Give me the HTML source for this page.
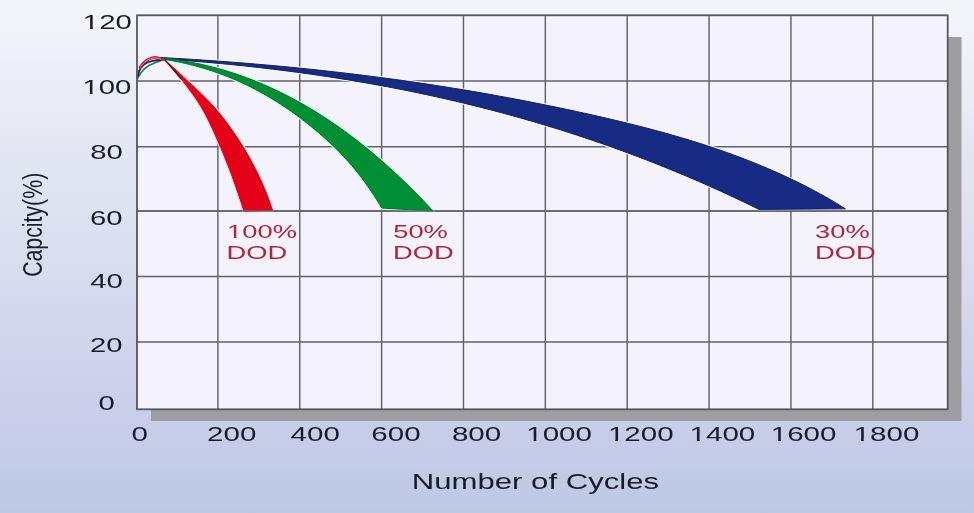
<!DOCTYPE html>
<html><head><meta charset="utf-8"><title>Cycle life chart</title>
<style>html,body{margin:0;padding:0;width:974px;height:513px;overflow:hidden;background:#dfe2f0}svg{display:block}</style>
</head><body>
<svg width="974" height="513" viewBox="0 0 974 513" font-family="'Liberation Sans', Arial, sans-serif">
<defs>
<linearGradient id="bg" x1="0" y1="0" x2="0" y2="1">
<stop offset="0" stop-color="#f5f6fa"/>
<stop offset="0.25" stop-color="#e6e9f4"/>
<stop offset="0.49" stop-color="#dbdeee"/>
<stop offset="0.74" stop-color="#cdd1eb"/>
<stop offset="0.88" stop-color="#c5cce8"/>
<stop offset="1" stop-color="#bdc9e2"/>
</linearGradient>
<linearGradient id="bgU" gradientUnits="userSpaceOnUse" x1="0" y1="0" x2="0" y2="513">
<stop offset="0" stop-color="#f5f6fa"/>
<stop offset="0.25" stop-color="#e6e9f4"/>
<stop offset="0.49" stop-color="#dbdeee"/>
<stop offset="0.74" stop-color="#cdd1eb"/>
<stop offset="0.88" stop-color="#c5cce8"/>
<stop offset="1" stop-color="#bdc9e2"/>
</linearGradient>
</defs>
<rect width="974" height="513" fill="url(#bg)"/>
<rect x="151" y="37" width="810.5" height="384" fill="#9e9da2"/>
<rect x="137" y="15.3" width="810.7" height="394" fill="#f4f3fc"/>
<g stroke="#62626c" stroke-width="1.45"><line x1="217.90" y1="15.3" x2="217.90" y2="409.3" /><line x1="299.76" y1="15.3" x2="299.76" y2="409.3" /><line x1="381.62" y1="15.3" x2="381.62" y2="409.3" /><line x1="463.48" y1="15.3" x2="463.48" y2="409.3" /><line x1="545.34" y1="15.3" x2="545.34" y2="409.3" /><line x1="627.20" y1="15.3" x2="627.20" y2="409.3" /><line x1="709.06" y1="15.3" x2="709.06" y2="409.3" /><line x1="790.92" y1="15.3" x2="790.92" y2="409.3" /><line x1="872.78" y1="15.3" x2="872.78" y2="409.3" /><line x1="137" y1="81.00" x2="947.7" y2="81.00" /><line x1="137" y1="146.80" x2="947.7" y2="146.80" /><line x1="137" y1="211.00" x2="947.7" y2="211.00" /><line x1="137" y1="276.40" x2="947.7" y2="276.40" /><line x1="137" y1="341.90" x2="947.7" y2="341.90" /></g>
<g>
<polygon points="160.00,57.46 168.68,57.93 177.35,58.43 186.03,58.95 194.70,59.50 203.38,60.07 212.06,60.66 220.73,61.28 229.41,61.93 238.08,62.60 246.76,63.30 255.44,64.02 264.11,64.77 272.79,65.55 281.46,66.35 290.14,67.18 298.82,68.04 307.49,68.92 316.17,69.83 324.84,70.77 333.52,71.74 342.19,72.74 350.87,73.77 359.55,74.82 368.22,75.91 376.90,77.02 385.57,78.17 394.25,79.34 402.93,80.55 411.60,81.78 420.28,83.05 428.95,84.35 437.63,85.68 446.31,87.04 454.98,88.44 463.66,89.86 472.33,91.32 481.01,92.81 489.69,94.34 498.36,95.90 507.04,97.49 515.71,99.11 524.39,100.77 533.07,102.47 541.74,104.20 550.42,105.96 559.09,107.76 567.77,109.59 576.45,111.46 585.12,113.37 593.80,115.31 602.47,117.29 611.15,119.31 619.83,121.37 628.50,123.47 637.18,125.64 645.85,127.86 654.53,130.15 663.21,132.50 671.88,134.94 680.56,137.45 689.23,140.05 697.91,142.75 706.58,145.54 715.26,148.44 723.94,151.44 732.61,154.57 741.29,157.81 749.96,161.17 758.64,164.67 767.32,168.31 775.99,172.09 784.67,176.01 793.34,180.09 802.02,184.34 810.70,188.77 819.37,193.41 828.05,198.29 836.72,203.42 845.40,208.84 759.00,209.40 751.42,205.68 743.84,202.03 736.25,198.43 728.67,194.89 721.09,191.40 713.51,187.97 705.92,184.59 698.34,181.27 690.76,178.00 683.18,174.79 675.59,171.63 668.01,168.52 660.43,165.46 652.85,162.46 645.27,159.51 637.68,156.61 630.10,153.76 622.52,150.96 614.94,148.21 607.35,145.51 599.77,142.85 592.19,140.25 584.61,137.70 577.03,135.19 569.44,132.73 561.86,130.32 554.28,127.95 546.70,125.63 539.11,123.36 531.53,121.13 523.95,118.95 516.37,116.81 508.78,114.71 501.20,112.66 493.62,110.65 486.04,108.68 478.46,106.76 470.87,104.88 463.29,103.04 455.71,101.24 448.13,99.48 440.54,97.76 432.96,96.09 425.38,94.45 417.80,92.85 410.22,91.29 402.63,89.76 395.05,88.28 387.47,86.83 379.89,85.42 372.30,84.05 364.72,82.71 357.14,81.41 349.56,80.14 341.97,78.91 334.39,77.71 326.81,76.54 319.23,75.41 311.65,74.32 304.06,73.25 296.48,72.22 288.90,71.22 281.32,70.25 273.73,69.31 266.15,68.41 258.57,67.53 250.99,66.68 243.41,65.87 235.82,65.08 228.24,64.32 220.66,63.59 213.08,62.88 205.49,62.20 197.91,61.55 190.33,60.93 182.75,60.33 175.16,59.76 167.58,59.22 160.00,58.69" fill="none" stroke="#fbfbff" stroke-width="3" stroke-linejoin="round"/>
<polygon points="165.00,58.37 168.39,58.76 171.79,59.18 175.18,59.64 178.58,60.13 181.97,60.66 185.37,61.22 188.76,61.82 192.16,62.46 195.55,63.13 198.95,63.84 202.34,64.59 205.74,65.37 209.13,66.19 212.53,67.05 215.92,67.95 219.32,68.88 222.71,69.85 226.11,70.86 229.50,71.91 232.90,72.99 236.29,74.12 239.69,75.28 243.08,76.48 246.48,77.72 249.87,79.00 253.27,80.32 256.66,81.68 260.06,83.08 263.45,84.52 266.85,86.00 270.24,87.52 273.64,89.08 277.03,90.68 280.43,92.32 283.82,94.00 287.22,95.72 290.61,97.49 294.01,99.29 297.40,101.14 300.80,103.03 304.19,104.96 307.59,106.94 310.98,108.95 314.38,111.01 317.77,113.11 321.17,115.26 324.56,117.44 327.96,119.67 331.35,121.95 334.75,124.26 338.14,126.62 341.54,129.03 344.93,131.48 348.33,133.97 351.72,136.51 355.12,139.09 358.51,141.71 361.91,144.39 365.30,147.10 368.70,149.86 372.09,152.67 375.49,155.52 378.88,158.42 382.28,161.37 385.67,164.36 389.07,167.39 392.46,170.48 395.86,173.61 399.25,176.78 402.65,180.01 406.04,183.28 409.44,186.59 412.83,189.96 416.23,193.37 419.62,196.83 423.02,200.34 426.41,203.90 429.81,207.51 433.20,211.16 381.80,208.03 379.06,203.47 376.31,199.06 373.57,194.80 370.82,190.69 368.08,186.71 365.33,182.86 362.59,179.14 359.85,175.55 357.10,172.07 354.36,168.70 351.61,165.44 348.87,162.28 346.12,159.22 343.38,156.25 340.64,153.37 337.89,150.57 335.15,147.84 332.40,145.19 329.66,142.60 326.91,140.08 324.17,137.61 321.43,135.19 318.68,132.82 315.94,130.49 313.19,128.20 310.45,125.96 307.70,123.76 304.96,121.60 302.22,119.48 299.47,117.40 296.73,115.37 293.98,113.37 291.24,111.42 288.49,109.50 285.75,107.63 283.01,105.79 280.26,103.99 277.52,102.23 274.77,100.51 272.03,98.83 269.28,97.19 266.54,95.58 263.79,94.01 261.05,92.48 258.31,90.98 255.56,89.52 252.82,88.09 250.07,86.70 247.33,85.35 244.58,84.03 241.84,82.74 239.10,81.49 236.35,80.27 233.61,79.09 230.86,77.94 228.12,76.82 225.37,75.74 222.63,74.68 219.89,73.66 217.14,72.67 214.40,71.71 211.65,70.79 208.91,69.89 206.16,69.02 203.42,68.19 200.68,67.38 197.93,66.60 195.19,65.86 192.44,65.14 189.70,64.45 186.95,63.78 184.21,63.15 181.47,62.54 178.72,61.96 175.98,61.40 173.23,60.88 170.49,60.38 167.74,59.90 165.00,59.45" fill="none" stroke="#d6fadf" stroke-width="3.2" stroke-linejoin="round"/>
<polygon points="163.94,59.50 166.22,61.41 168.46,63.32 170.65,65.23 172.81,67.14 174.92,69.05 176.99,70.96 179.03,72.87 181.04,74.78 183.05,76.69 185.05,78.60 187.07,80.51 189.09,82.42 191.12,84.33 193.17,86.24 195.22,88.15 197.27,90.06 199.30,91.97 201.31,93.88 203.28,95.79 205.22,97.70 207.11,99.61 208.95,101.52 210.75,103.43 212.50,105.34 214.21,107.25 215.88,109.16 217.51,111.07 219.11,112.98 220.66,114.89 222.19,116.80 223.68,118.71 225.15,120.62 226.58,122.53 227.99,124.44 229.38,126.35 230.75,128.26 232.09,130.17 233.42,132.08 234.72,133.99 236.01,135.91 237.28,137.82 238.54,139.73 239.77,141.64 240.99,143.55 242.19,145.46 243.38,147.37 244.54,149.28 245.69,151.19 246.82,153.10 247.93,155.01 249.02,156.92 250.09,158.83 251.15,160.74 252.18,162.65 253.20,164.56 254.20,166.47 255.18,168.38 256.14,170.29 257.09,172.20 258.01,174.11 258.92,176.02 259.82,177.93 260.69,179.84 261.55,181.75 262.39,183.66 263.21,185.57 264.02,187.48 264.81,189.39 265.59,191.30 266.35,193.21 267.10,195.12 267.82,197.03 268.54,198.94 269.24,200.85 269.92,202.76 270.59,204.67 271.25,206.58 271.89,208.49 272.52,210.40 243.95,211.00 243.32,209.08 242.70,207.16 242.07,205.25 241.44,203.33 240.80,201.41 240.17,199.49 239.52,197.58 238.88,195.66 238.23,193.74 237.58,191.82 236.92,189.91 236.26,187.99 235.59,186.07 234.91,184.15 234.23,182.23 233.55,180.32 232.86,178.40 232.16,176.48 231.45,174.56 230.74,172.65 230.02,170.73 229.29,168.81 228.55,166.89 227.81,164.97 227.05,163.06 226.29,161.14 225.53,159.22 224.75,157.30 223.97,155.39 223.17,153.47 222.38,151.55 221.57,149.63 220.76,147.72 219.94,145.80 219.12,143.88 218.29,141.96 217.45,140.04 216.61,138.13 215.77,136.21 214.91,134.29 214.06,132.37 213.19,130.46 212.32,128.54 211.43,126.62 210.53,124.70 209.62,122.78 208.69,120.87 207.74,118.95 206.77,117.03 205.77,115.11 204.74,113.20 203.68,111.28 202.59,109.36 201.47,107.44 200.31,105.53 199.11,103.61 197.88,101.69 196.62,99.77 195.32,97.85 193.99,95.94 192.62,94.02 191.23,92.10 189.82,90.18 188.38,88.27 186.92,86.35 185.43,84.43 183.93,82.51 182.42,80.59 180.88,78.68 179.34,76.76 177.77,74.84 176.19,72.92 174.60,71.01 172.99,69.09 171.36,67.17 169.71,65.25 168.05,63.34 166.36,61.42 164.66,59.50" fill="none" stroke="#ffd6dc" stroke-width="3.2" stroke-linejoin="round"/>
<polygon points="160.00,57.46 168.68,57.93 177.35,58.43 186.03,58.95 194.70,59.50 203.38,60.07 212.06,60.66 220.73,61.28 229.41,61.93 238.08,62.60 246.76,63.30 255.44,64.02 264.11,64.77 272.79,65.55 281.46,66.35 290.14,67.18 298.82,68.04 307.49,68.92 316.17,69.83 324.84,70.77 333.52,71.74 342.19,72.74 350.87,73.77 359.55,74.82 368.22,75.91 376.90,77.02 385.57,78.17 394.25,79.34 402.93,80.55 411.60,81.78 420.28,83.05 428.95,84.35 437.63,85.68 446.31,87.04 454.98,88.44 463.66,89.86 472.33,91.32 481.01,92.81 489.69,94.34 498.36,95.90 507.04,97.49 515.71,99.11 524.39,100.77 533.07,102.47 541.74,104.20 550.42,105.96 559.09,107.76 567.77,109.59 576.45,111.46 585.12,113.37 593.80,115.31 602.47,117.29 611.15,119.31 619.83,121.37 628.50,123.47 637.18,125.64 645.85,127.86 654.53,130.15 663.21,132.50 671.88,134.94 680.56,137.45 689.23,140.05 697.91,142.75 706.58,145.54 715.26,148.44 723.94,151.44 732.61,154.57 741.29,157.81 749.96,161.17 758.64,164.67 767.32,168.31 775.99,172.09 784.67,176.01 793.34,180.09 802.02,184.34 810.70,188.77 819.37,193.41 828.05,198.29 836.72,203.42 845.40,208.84 759.00,209.40 751.42,205.68 743.84,202.03 736.25,198.43 728.67,194.89 721.09,191.40 713.51,187.97 705.92,184.59 698.34,181.27 690.76,178.00 683.18,174.79 675.59,171.63 668.01,168.52 660.43,165.46 652.85,162.46 645.27,159.51 637.68,156.61 630.10,153.76 622.52,150.96 614.94,148.21 607.35,145.51 599.77,142.85 592.19,140.25 584.61,137.70 577.03,135.19 569.44,132.73 561.86,130.32 554.28,127.95 546.70,125.63 539.11,123.36 531.53,121.13 523.95,118.95 516.37,116.81 508.78,114.71 501.20,112.66 493.62,110.65 486.04,108.68 478.46,106.76 470.87,104.88 463.29,103.04 455.71,101.24 448.13,99.48 440.54,97.76 432.96,96.09 425.38,94.45 417.80,92.85 410.22,91.29 402.63,89.76 395.05,88.28 387.47,86.83 379.89,85.42 372.30,84.05 364.72,82.71 357.14,81.41 349.56,80.14 341.97,78.91 334.39,77.71 326.81,76.54 319.23,75.41 311.65,74.32 304.06,73.25 296.48,72.22 288.90,71.22 281.32,70.25 273.73,69.31 266.15,68.41 258.57,67.53 250.99,66.68 243.41,65.87 235.82,65.08 228.24,64.32 220.66,63.59 213.08,62.88 205.49,62.20 197.91,61.55 190.33,60.93 182.75,60.33 175.16,59.76 167.58,59.22 160.00,58.69" fill="#172b84" stroke="#141f62" stroke-width="1" stroke-linejoin="round"/>
<polygon points="165.00,58.37 168.39,58.76 171.79,59.18 175.18,59.64 178.58,60.13 181.97,60.66 185.37,61.22 188.76,61.82 192.16,62.46 195.55,63.13 198.95,63.84 202.34,64.59 205.74,65.37 209.13,66.19 212.53,67.05 215.92,67.95 219.32,68.88 222.71,69.85 226.11,70.86 229.50,71.91 232.90,72.99 236.29,74.12 239.69,75.28 243.08,76.48 246.48,77.72 249.87,79.00 253.27,80.32 256.66,81.68 260.06,83.08 263.45,84.52 266.85,86.00 270.24,87.52 273.64,89.08 277.03,90.68 280.43,92.32 283.82,94.00 287.22,95.72 290.61,97.49 294.01,99.29 297.40,101.14 300.80,103.03 304.19,104.96 307.59,106.94 310.98,108.95 314.38,111.01 317.77,113.11 321.17,115.26 324.56,117.44 327.96,119.67 331.35,121.95 334.75,124.26 338.14,126.62 341.54,129.03 344.93,131.48 348.33,133.97 351.72,136.51 355.12,139.09 358.51,141.71 361.91,144.39 365.30,147.10 368.70,149.86 372.09,152.67 375.49,155.52 378.88,158.42 382.28,161.37 385.67,164.36 389.07,167.39 392.46,170.48 395.86,173.61 399.25,176.78 402.65,180.01 406.04,183.28 409.44,186.59 412.83,189.96 416.23,193.37 419.62,196.83 423.02,200.34 426.41,203.90 429.81,207.51 433.20,211.16 381.80,208.03 379.06,203.47 376.31,199.06 373.57,194.80 370.82,190.69 368.08,186.71 365.33,182.86 362.59,179.14 359.85,175.55 357.10,172.07 354.36,168.70 351.61,165.44 348.87,162.28 346.12,159.22 343.38,156.25 340.64,153.37 337.89,150.57 335.15,147.84 332.40,145.19 329.66,142.60 326.91,140.08 324.17,137.61 321.43,135.19 318.68,132.82 315.94,130.49 313.19,128.20 310.45,125.96 307.70,123.76 304.96,121.60 302.22,119.48 299.47,117.40 296.73,115.37 293.98,113.37 291.24,111.42 288.49,109.50 285.75,107.63 283.01,105.79 280.26,103.99 277.52,102.23 274.77,100.51 272.03,98.83 269.28,97.19 266.54,95.58 263.79,94.01 261.05,92.48 258.31,90.98 255.56,89.52 252.82,88.09 250.07,86.70 247.33,85.35 244.58,84.03 241.84,82.74 239.10,81.49 236.35,80.27 233.61,79.09 230.86,77.94 228.12,76.82 225.37,75.74 222.63,74.68 219.89,73.66 217.14,72.67 214.40,71.71 211.65,70.79 208.91,69.89 206.16,69.02 203.42,68.19 200.68,67.38 197.93,66.60 195.19,65.86 192.44,65.14 189.70,64.45 186.95,63.78 184.21,63.15 181.47,62.54 178.72,61.96 175.98,61.40 173.23,60.88 170.49,60.38 167.74,59.90 165.00,59.45" fill="#008e34" stroke="#06702c" stroke-width="1" stroke-linejoin="round"/>
<polygon points="163.94,59.50 166.22,61.41 168.46,63.32 170.65,65.23 172.81,67.14 174.92,69.05 176.99,70.96 179.03,72.87 181.04,74.78 183.05,76.69 185.05,78.60 187.07,80.51 189.09,82.42 191.12,84.33 193.17,86.24 195.22,88.15 197.27,90.06 199.30,91.97 201.31,93.88 203.28,95.79 205.22,97.70 207.11,99.61 208.95,101.52 210.75,103.43 212.50,105.34 214.21,107.25 215.88,109.16 217.51,111.07 219.11,112.98 220.66,114.89 222.19,116.80 223.68,118.71 225.15,120.62 226.58,122.53 227.99,124.44 229.38,126.35 230.75,128.26 232.09,130.17 233.42,132.08 234.72,133.99 236.01,135.91 237.28,137.82 238.54,139.73 239.77,141.64 240.99,143.55 242.19,145.46 243.38,147.37 244.54,149.28 245.69,151.19 246.82,153.10 247.93,155.01 249.02,156.92 250.09,158.83 251.15,160.74 252.18,162.65 253.20,164.56 254.20,166.47 255.18,168.38 256.14,170.29 257.09,172.20 258.01,174.11 258.92,176.02 259.82,177.93 260.69,179.84 261.55,181.75 262.39,183.66 263.21,185.57 264.02,187.48 264.81,189.39 265.59,191.30 266.35,193.21 267.10,195.12 267.82,197.03 268.54,198.94 269.24,200.85 269.92,202.76 270.59,204.67 271.25,206.58 271.89,208.49 272.52,210.40 243.95,211.00 243.32,209.08 242.70,207.16 242.07,205.25 241.44,203.33 240.80,201.41 240.17,199.49 239.52,197.58 238.88,195.66 238.23,193.74 237.58,191.82 236.92,189.91 236.26,187.99 235.59,186.07 234.91,184.15 234.23,182.23 233.55,180.32 232.86,178.40 232.16,176.48 231.45,174.56 230.74,172.65 230.02,170.73 229.29,168.81 228.55,166.89 227.81,164.97 227.05,163.06 226.29,161.14 225.53,159.22 224.75,157.30 223.97,155.39 223.17,153.47 222.38,151.55 221.57,149.63 220.76,147.72 219.94,145.80 219.12,143.88 218.29,141.96 217.45,140.04 216.61,138.13 215.77,136.21 214.91,134.29 214.06,132.37 213.19,130.46 212.32,128.54 211.43,126.62 210.53,124.70 209.62,122.78 208.69,120.87 207.74,118.95 206.77,117.03 205.77,115.11 204.74,113.20 203.68,111.28 202.59,109.36 201.47,107.44 200.31,105.53 199.11,103.61 197.88,101.69 196.62,99.77 195.32,97.85 193.99,95.94 192.62,94.02 191.23,92.10 189.82,90.18 188.38,88.27 186.92,86.35 185.43,84.43 183.93,82.51 182.42,80.59 180.88,78.68 179.34,76.76 177.77,74.84 176.19,72.92 174.60,71.01 172.99,69.09 171.36,67.17 169.71,65.25 168.05,63.34 166.36,61.42 164.66,59.50" fill="#e40016" stroke="#b40c20" stroke-width="1" stroke-linejoin="round"/>
<polyline points="164.66,59.50 166.36,61.42 168.05,63.34 169.71,65.25 171.36,67.17 172.99,69.09 174.60,71.01 176.19,72.92 177.77,74.84 179.34,76.76 180.88,78.68" fill="none" stroke="#4a1420" stroke-width="1.4" stroke-linecap="round" stroke-linejoin="round"/>
<line x1="137" y1="211.0" x2="947.7" y2="211.0" stroke="#62626c" stroke-width="1.45"/>

<path d="M137.4,78.6 C139,75.2 141.5,71.6 144.4,68.8 C147.5,66.1 151,64.1 155,62.7 C158,61.7 161,60.6 165,59.5" fill="none" stroke="#1d7a3c" stroke-width="1.6"/>
<path d="M137.6,77 C138.3,73 139.5,69.6 141,67.4 C143,64.8 145,63.4 147.5,62.4 C150.5,61.3 153.5,60.7 156.5,60.3 L162,59.7" fill="none" stroke="#222a6a" stroke-width="2"/>
<path d="M139.6,68.2 C140.2,67 140.6,66.4 141.2,65.6 C143,63 145.5,60.6 148.5,59.2 C151,58 153.5,57.3 155.7,57.3 C158.2,57.4 160.6,58.4 163.5,59.8" fill="none" stroke="#c01e36" stroke-width="2.7"/>
<path d="M140.6,66.6 C142.5,63.6 145.5,61.1 148.5,59.6 C151,58.5 153.5,57.9 155.7,57.9 C157.8,58 159.5,58.6 161,59.3" fill="none" stroke="#f2a2b0" stroke-width="0.8"/>

</g>
<rect x="137" y="15.3" width="810.7" height="394" fill="none" stroke="#55555f" stroke-width="1.8"/>
<g>
<text transform="translate(82.86,28.64) scale(1.45,1)" font-size="20.2" fill="#181b2a">120</text><text transform="translate(82.56,93.74) scale(1.45,1)" font-size="20.2" fill="#181b2a">100</text><text transform="translate(90.23,158.74) scale(1.45,1)" font-size="20.2" fill="#181b2a">80</text><text transform="translate(89.94,224.94) scale(1.45,1)" font-size="20.2" fill="#181b2a">60</text><text transform="translate(90.21,288.44) scale(1.45,1)" font-size="20.2" fill="#181b2a">40</text><text transform="translate(89.94,351.74) scale(1.45,1)" font-size="20.2" fill="#181b2a">20</text><text transform="translate(98.53,410.34) scale(1.45,1)" font-size="20.2" fill="#181b2a">0</text><text transform="translate(131.52,440.58) scale(1.45,1)" font-size="20.4" fill="#181b2a">0</text><text transform="translate(207.12,440.58) scale(1.45,1)" font-size="20.4" fill="#181b2a">200</text><text transform="translate(290.61,440.58) scale(1.45,1)" font-size="20.4" fill="#181b2a">400</text><text transform="translate(371.32,440.58) scale(1.45,1)" font-size="20.4" fill="#181b2a">600</text><text transform="translate(451.92,440.58) scale(1.45,1)" font-size="20.4" fill="#181b2a">800</text><text transform="translate(526.23,440.58) scale(1.45,1)" font-size="20.4" fill="#181b2a">1000</text><text transform="translate(607.93,440.58) scale(1.45,1)" font-size="20.4" fill="#181b2a">1200</text><text transform="translate(689.53,440.58) scale(1.45,1)" font-size="20.4" fill="#181b2a">1400</text><text transform="translate(770.73,440.58) scale(1.45,1)" font-size="20.4" fill="#181b2a">1600</text><text transform="translate(853.63,440.58) scale(1.45,1)" font-size="20.4" fill="#181b2a">1800</text><text transform="translate(411.81,488.6) scale(1.461,1)" font-size="21.3" fill="#181b2a">Number of Cycles</text><text transform="translate(42.0,276.87) scale(1.33,1) rotate(-90)" font-size="21.3" fill="#181b2a">Capcity(%)</text><text transform="translate(227.12,237.74) scale(1.5,1)" font-size="18.2" fill="#b42438">100%</text><text transform="translate(226.62,259.04) scale(1.5,1)" font-size="18.2" fill="#b42438">DOD</text><text transform="translate(393.21,237.94) scale(1.5,1)" font-size="18.2" fill="#b42438">50%</text><text transform="translate(393.02,259.04) scale(1.5,1)" font-size="18.2" fill="#b42438">DOD</text><text transform="translate(815.11,237.94) scale(1.5,1)" font-size="18.2" fill="#b42438">30%</text><text transform="translate(815.02,259.04) scale(1.5,1)" font-size="18.2" fill="#b42438">DOD</text>
</g>
<g><rect x="84.47" y="26.52" width="5.62" height="2.73" fill="url(#bgU)"/><rect x="92.90" y="26.52" width="5.48" height="2.73" fill="url(#bgU)"/><rect x="84.17" y="91.62" width="5.62" height="2.73" fill="url(#bgU)"/><rect x="92.60" y="91.62" width="5.48" height="2.73" fill="url(#bgU)"/><rect x="527.86" y="438.44" width="5.68" height="2.75" fill="url(#bgU)"/><rect x="536.38" y="438.44" width="5.53" height="2.75" fill="url(#bgU)"/><rect x="609.56" y="438.44" width="5.68" height="2.75" fill="url(#bgU)"/><rect x="618.08" y="438.44" width="5.53" height="2.75" fill="url(#bgU)"/><rect x="691.16" y="438.44" width="5.68" height="2.75" fill="url(#bgU)"/><rect x="699.68" y="438.44" width="5.53" height="2.75" fill="url(#bgU)"/><rect x="772.36" y="438.44" width="5.68" height="2.75" fill="url(#bgU)"/><rect x="780.88" y="438.44" width="5.53" height="2.75" fill="url(#bgU)"/><rect x="855.26" y="438.44" width="5.68" height="2.75" fill="url(#bgU)"/><rect x="863.78" y="438.44" width="5.53" height="2.75" fill="url(#bgU)"/><rect x="228.62" y="235.83" width="5.24" height="2.46" fill="#f4f3fc"/><rect x="236.48" y="235.83" width="5.11" height="2.46" fill="#f4f3fc"/></g>
</svg>
</body></html>
